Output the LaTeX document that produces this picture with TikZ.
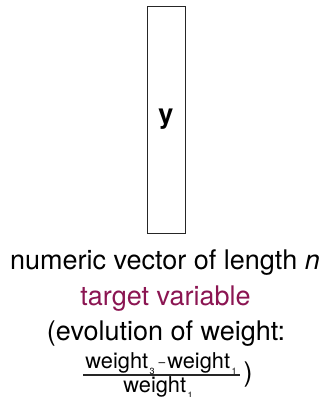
\documentclass[tikz,border=0pt]{standalone}
\usepackage{fontspec}
\setmainfont{TeX Gyre Heros}
\definecolor{plum}{RGB}{139,21,82}
\newcommand{\mysub}[1]{\kern1.5pt\raisebox{-6pt}{\fontsize{9}{10}\selectfont #1}}
\newcommand{\myminus}{\kern4pt{\fontsize{12}{12}\selectfont \raisebox{1.5pt}{–}}\kern2pt}
\begin{document}
\begin{tikzpicture}[x=1pt,y=1pt,
  txt/.style={inner sep=0pt,anchor=base,font=\fontsize{27}{35}\selectfont},
  fr/.style={inner sep=0pt,anchor=base,font=\fontsize{21.8}{24}\selectfont},
  vecbox/.style={draw=black!85,line width=0.9pt,minimum width=38pt,minimum height=227pt,inner sep=0pt,font=\fontsize{27}{35}\selectfont\bfseries}]
\useasboundingbox (0,0) rectangle (327,-397);
\node[vecbox] (y) at (166,-119.5) {y};
\node[txt] (l1) at (165,-269) {numeric vector of length \textit{n}};
\node[txt,text=plum] (l2) at (165.5,-305) {target variable};
\node[txt] (l3) at (166,-340) {(evolution of weight:};
\node[fr] (num) at (161,-368) {weight\mysub{3}\myminus weight\mysub{1}};
\node[fr] (den) at (158,-392) {weight\mysub{1}};
\coordinate (barL) at (83,-375);
\coordinate (barR) at (240,-375);
\draw[line width=1.1pt,black!85] (barL) -- (barR);
\node[txt] (rp) at (248,-381) {)};
\end{tikzpicture}
\end{document}
